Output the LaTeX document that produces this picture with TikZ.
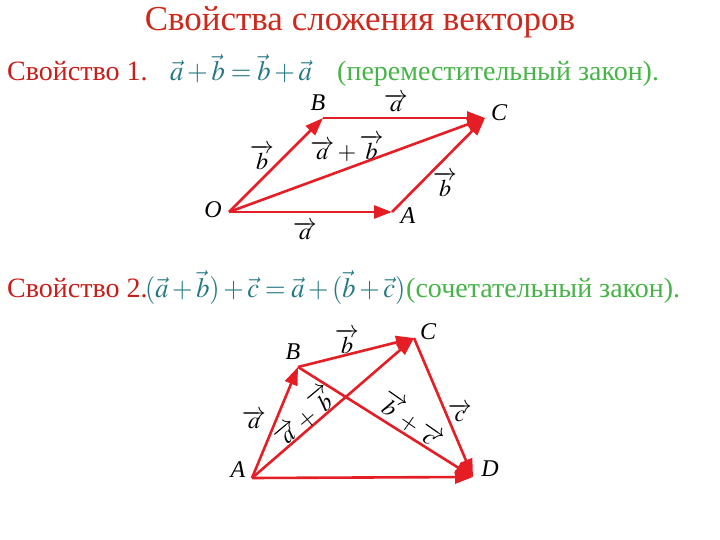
\documentclass[tikz,border=0pt]{standalone}
\usepackage{mathptmx}
\usepackage{fontspec}
\setmainfont{Liberation Serif}
\usetikzlibrary{arrows.meta}
\definecolor{titlered}{RGB}{205,40,28}
\definecolor{propred}{RGB}{200,30,25}
\definecolor{formteal}{RGB}{35,120,130}
\definecolor{lawgreen}{RGB}{70,180,70}
\definecolor{vecred}{RGB}{228,30,36}
\tikzset{
  vec/.style={draw=vecred, line width=2.6pt, -{Triangle[length=18pt,width=13pt]}},
  pt/.style={font=\fontsize{24}{24}\selectfont\itshape, inner sep=0pt},
  vlab/.style={font=\fontsize{24}{24}\selectfont, inner sep=0pt},
  txt/.style={inner sep=0pt, anchor=base west, font=\fontsize{28}{28}\selectfont}
}
\begin{document}
\begin{tikzpicture}[x=1pt,y=-1pt]
\useasboundingbox (0,0) rectangle (720,540);
% title
\node[inner sep=0pt, anchor=base, text=titlered, font=\fontsize{35}{35}\selectfont] (title) at (360,31) {Свойства сложения векторов};
% property 1
\node[txt, text=propred] (p1) at (7,81) {Свойство 1.};
\node[txt, text=formteal] (f1) at (170,81) {\scalebox{0.95}[1]{$\vec{a}+\vec{b}=\vec{b}+\vec{a}$}};
\node[txt, text=lawgreen] (l1) at (337,81) {(переместительный закон).};
% property 2
\node[txt, text=propred] (p2) at (7,297) {Свойство 2.};
\node[txt, text=formteal] (f2) at (145,297) {\scalebox{0.94}[1]{$(\vec{a}+\vec{b})+\vec{c}=\vec{a}+(\vec{b}+\vec{c})$}};
\node[txt, text=lawgreen] (l2) at (406,297) {(сочетательный закон).};
% diagram 1
\coordinate (O) at (229,212);
\coordinate (A) at (392,212);
\coordinate (B) at (323,118);
\coordinate (C) at (485,118);
\draw[vec] (O) -- (A);
\draw[vec] (O) -- (B);
\draw[vec] (B) -- (C);
\draw[vec] (A) -- (C);
\draw[vec] (O) -- (C);
\node[pt] (lO) at (213,210) {O};
\node[pt] (lA) at (408,216) {A};
\node[pt] (lB) at (318,103) {B};
\node[pt] (lC) at (499,113) {C};
\node[vlab] (va1) at (396,103) {$\overrightarrow{a}$};
\node[vlab] (vab) at (347,148) {$\overrightarrow{a}+\overrightarrow{b}$};
\node[vlab] (vb1) at (262,157) {$\overrightarrow{b}$};
\node[vlab] (vb2) at (445,184) {$\overrightarrow{b}$};
\node[vlab] (va2) at (305,231) {$\overrightarrow{a}$};
% diagram 2
\coordinate (A2) at (252,478);
\coordinate (B2) at (298,367);
\coordinate (C2) at (414,338);
\coordinate (D2) at (473,477);
\draw[vec] (A2) -- (B2);
\draw[vec] (B2) -- (C2);
\draw[vec] (C2) -- (D2);
\draw[vec] (A2) -- (C2);
\draw[vec] (B2) -- (D2);
\draw[vec] (A2) -- (D2);
\node[pt] (lA2) at (238,470) {A};
\node[pt] (lB2) at (293,352) {B};
\node[pt] (lC2) at (428,332) {C};
\node[pt] (lD2) at (490,469) {D};
\node[vlab] (vb3) at (347,341) {$\overrightarrow{b}$};
\node[vlab] (va3) at (254,420) {$\overrightarrow{a}$};
\node[vlab] (vc3) at (460,413) {$\overrightarrow{c}$};
\node[vlab, rotate=40] (vab2) at (304,416) {$\overrightarrow{a}+\overrightarrow{b}$};
\node[vlab, rotate=-35] (vbc2) at (412,420) {$\overrightarrow{b}+\overrightarrow{c}$};
\end{tikzpicture}
\end{document}
